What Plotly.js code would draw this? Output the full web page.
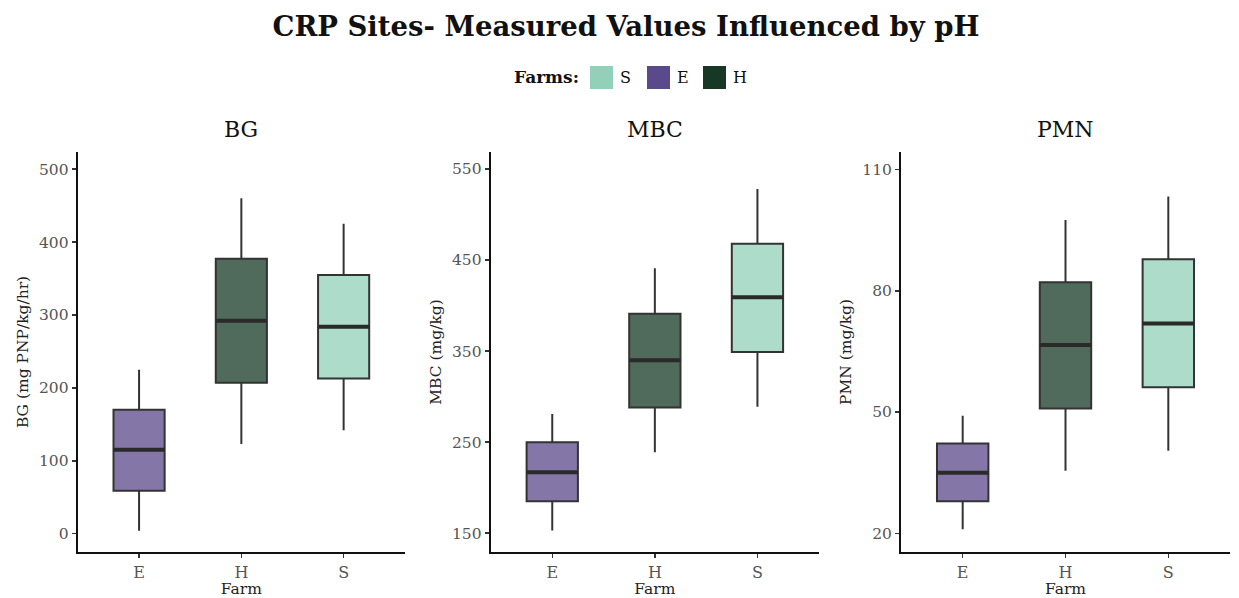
<!DOCTYPE html>
<html>
<head>
<meta charset="utf-8">
<script src="https://cdn.plot.ly/plotly-3.0.1.min.js"></script>
<style>html,body{margin:0;padding:0;background:#fff;}#chart{width:1239px;height:598px;}</style>
</head>
<body>
<div id="chart"></div>
<script>
// ---- data ----
const farms = ['E', 'H', 'S'];
const legendOrder = ['S', 'E', 'H'];
const panels = ['BG', 'MBC', 'PMN'];
const yTitles = ['BG (mg PNP/kg/hr)', 'MBC (mg/kg)', 'PMN (mg/kg)'];

const bgLower = [4, 123, 142];
const bgQ1 = [59, 207, 213];
const bgMed = [115, 292, 284];
const bgQ3 = [170, 377, 355];
const bgUpper = [225, 460, 425];

const mbcLower = [153, 239, 289];
const mbcQ1 = [185, 288, 349];
const mbcMed = [217, 340, 409];
const mbcQ3 = [250, 391, 468];
const mbcUpper = [281, 441, 528];

const pmnLower = [21.0, 35.5, 40.4];
const pmnQ1 = [27.9, 50.9, 56.1];
const pmnMed = [35.0, 66.6, 71.9];
const pmnQ3 = [42.2, 82.1, 87.8];
const pmnUpper = [49.1, 97.5, 103.3];

const yTickVals = [[0, 100, 200, 300, 400, 500], [150, 250, 350, 450, 550], [20, 50, 80, 110]];
const yRanges = [[-25.5, 524], [129, 569], [15.3, 114.4]];

// ---- styling ----
const farmColor = {S: 'rgb(146,208,186)', E: 'rgb(91,74,139)', H: 'rgb(22,56,37)'};
const farmFill = {S: 'rgba(146,208,186,0.75)', E: 'rgba(91,74,139,0.75)', H: 'rgba(22,56,37,0.75)'};
const FONT = 'DejaVu Serif, Liberation Serif, serif';
const W = 1239, H = 598;

const stats = [
  [bgLower, bgQ1, bgMed, bgQ3, bgUpper],
  [mbcLower, mbcQ1, mbcMed, mbcQ3, mbcUpper],
  [pmnLower, pmnQ1, pmnMed, pmnQ3, pmnUpper]
];

const traces = [];
stats.forEach((s, p) => {
  const xa = p === 0 ? 'x' : 'x' + (p + 1);
  const ya = p === 0 ? 'y' : 'y' + (p + 1);
  farms.forEach((f, i) => {
    traces.push({
      type: 'box', xaxis: xa, yaxis: ya, x: [i],
      lowerfence: [s[0][i]], q1: [s[1][i]], median: [s[2][i]], q3: [s[3][i]], upperfence: [s[4][i]],
      width: 0.5, whiskerwidth: 0, boxpoints: false,
      fillcolor: farmFill[f], line: {color: '#333333', width: 2},
      showlegend: false, hoverinfo: 'skip'
    });
    traces.push({
      type: 'scatter', mode: 'lines', xaxis: xa, yaxis: ya,
      x: [i - 0.25, i + 0.25], y: [s[2][i], s[2][i]],
      line: {color: '#2a2a2a', width: 4}, showlegend: false, hoverinfo: 'skip'
    });
  });
});

const xDomains = [[77.7 / W, 405 / W], [490.7 / W, 819 / W], [901 / W, 1230 / W]];
const yDomain = [1 - 552.3 / H, 1 - 151.7 / H];

const layout = {
  width: W, height: H,
  margin: {l: 0, r: 0, t: 0, b: 0},
  paper_bgcolor: '#ffffff', plot_bgcolor: '#ffffff',
  font: {family: FONT, color: '#222'},
  showlegend: false,
  boxmode: 'overlay',
  title: {text: '<b>CRP Sites- Measured Values Influenced by pH</b>', font: {family: FONT, size: 27.5, color: '#111'},
          x: 626 / W, xanchor: 'center', xref: 'container', y: 1 - 26 / H, yanchor: 'middle', yref: 'container'},
  annotations: [],
  shapes: []
};

panels.forEach((name, p) => {
  const sx = p === 0 ? '' : String(p + 1);
  layout['xaxis' + sx] = {
    domain: xDomains[p], anchor: 'y' + sx, range: [-0.6, 2.6],
    tickvals: [0, 1, 2], ticktext: farms, showgrid: false, zeroline: false,
    showline: true, linecolor: '#111', linewidth: 2, ticks: 'outside', ticklen: 4, tickcolor: '#333', tickwidth: 1.5,
    tickfont: {family: FONT, size: 16, color: '#555'},
    title: {text: 'Farm', font: {family: FONT, size: 15.5, color: '#222'}, standoff: 3},
    fixedrange: true
  };
  layout['yaxis' + sx] = {
    domain: yDomain, anchor: 'x' + sx, range: yRanges[p],
    tickvals: yTickVals[p], showgrid: false, zeroline: false,
    showline: true, linecolor: '#111', linewidth: 2, ticks: 'outside', ticklen: 4, tickcolor: '#333', tickwidth: 1.5,
    tickfont: {family: FONT, size: 15.5, color: '#555'},
    title: {text: yTitles[p], font: {family: FONT, size: 15.5, color: '#222'}, standoff: 7},
    fixedrange: true
  };
  layout.annotations.push({
    text: name, xref: 'paper', yref: 'paper',
    x: (xDomains[p][0] + xDomains[p][1]) / 2, y: 1 - 130 / H,
    xanchor: 'center', yanchor: 'middle', showarrow: false,
    font: {family: FONT, size: 22, color: '#111'}
  });
});

// legend (drawn as annotations + swatches)
layout.annotations.push({
  text: '<b>Farms:</b>', xref: 'paper', yref: 'paper', x: 581 / W, y: 1 - 77 / H,
  xanchor: 'right', yanchor: 'middle', showarrow: false, font: {family: FONT, size: 17, color: '#111'}
});
const swatchLeft = [590, 647, 703];
legendOrder.forEach((f, k) => {
  const x0 = swatchLeft[k];
  layout.shapes.push({
    type: 'rect', xref: 'paper', yref: 'paper',
    x0: x0 / W, x1: (x0 + 23) / W, y0: 1 - 89 / H, y1: 1 - 66 / H,
    fillcolor: farmColor[f], line: {width: 0}
  });
  layout.annotations.push({
    text: f, xref: 'paper', yref: 'paper', x: (x0 + 28) / W, y: 1 - 77 / H,
    xanchor: 'left', yanchor: 'middle', showarrow: false, font: {family: FONT, size: 16, color: '#111'}
  });
});

Plotly.newPlot('chart', traces, layout, {displayModeBar: false, staticPlot: true});
</script>
</body>
</html>
